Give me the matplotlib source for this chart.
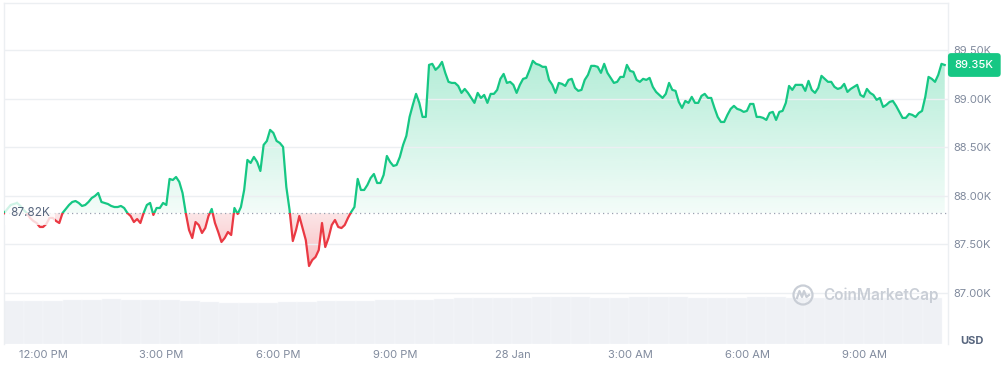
import matplotlib
matplotlib.use("Agg")
import matplotlib.pyplot as plt
import matplotlib.dates as mdates
import matplotlib.transforms as mtransforms
from matplotlib.patches import Rectangle, PathPatch, Circle
from matplotlib.lines import Line2D
from matplotlib.path import Path
import numpy as np
import pandas as pd

plt.rcParams["font.family"] = ["Inter", "DejaVu Sans"]

# ---------------------------------------------------------------------------
# Data
# ---------------------------------------------------------------------------
START = "2026-01-27 10:59"
END = "2026-01-28 11:03"
REF_PRICE = 87820          # price at the start of the window (dotted line)
LAST_PRICE = 89350

PRICE = [
    87820, 87864, 87905, 87915, 87926, 87895, 87853, 87822, 87771, 87740,
    87719, 87678, 87678, 87709, 87771, 87771, 87740, 87719, 87822, 87864,
    87905, 87936, 87946, 87926, 87895, 87905, 87936, 87977, 87998, 88029,
    87936, 87926, 87915, 87895, 87884, 87884, 87895, 87874, 87822, 87791,
    87729, 87760, 87719, 87822, 87905, 87926, 87802, 87874, 87874, 87926,
    87905, 88174, 88163, 88194, 88143, 88029, 87822, 87647, 87564, 87729,
    87698, 87616, 87667, 87791, 87864, 87719, 87626, 87523, 87564, 87626,
    87595, 87874, 87812, 87884, 88060, 88370, 88339, 88401, 88349, 88256,
    88525, 88566, 88680, 88649, 88566, 88545, 88504, 88091, 87853, 87533,
    87647, 87791, 87667, 87543, 87275, 87337, 87368, 87440, 87719, 87471,
    87564, 87698, 87750, 87678, 87667, 87698, 87771, 87833, 87884, 88174,
    88060, 88060, 88112, 88184, 88225, 88132, 88132, 88215, 88411, 88349,
    88308, 88318, 88401, 88525, 88618, 88814, 88938, 89052, 88959, 88814,
    88814, 89351, 89362, 89300, 89331, 89382, 89269, 89176, 89165, 89165,
    89134, 89062, 89103, 89062, 89010, 88959, 89062, 89010, 89041, 88959,
    89052, 89052, 89093, 89207, 89258, 89165, 89176, 89145, 89062, 89145,
    89207, 89217, 89300, 89393, 89362, 89351, 89331, 89331, 89196, 89145,
    89062, 89165, 89155, 89134, 89196, 89207, 89114, 89083, 89093, 89196,
    89248, 89341, 89341, 89331, 89269, 89362, 89269, 89217, 89165, 89176,
    89227, 89227, 89351, 89289, 89279, 89196, 89176, 89207, 89196, 89217,
    89124, 89072, 89041, 89010, 89052, 89165, 89093, 89083, 88969, 88907,
    88979, 88959, 89021, 88959, 88959, 89031, 89052, 89010, 89010, 88907,
    88814, 88762, 88762, 88835, 88897, 88928, 88897, 88886, 88866, 88876,
    88948, 88948, 88814, 88814, 88804, 88783, 88855, 88866, 88783, 88866,
    88876, 88959, 89134, 89093, 89145, 89145, 89145, 89083, 89186, 89093,
    89062, 89114, 89238, 89207, 89176, 89176, 89124, 89103, 89114, 89155,
    89072, 89103, 89124, 89145, 89041, 89021, 89103, 89062, 89041, 88990,
    89010, 88917, 88938, 88969, 88979, 88928, 88866, 88804, 88804, 88845,
    88835, 88814, 88855, 88876, 89021, 89227, 89207, 89176, 89248, 89362,
    89350,
]

# 24h volume, one bar per half hour (USD bn)
VOLUME_BN = [
    38.7, 38.7, 39.2, 39.6, 39.6, 40.5, 40.0, 39.6, 39.6, 38.7,
    37.8, 37.4, 36.9, 37.4, 37.8, 38.3, 38.7, 38.7, 39.2, 39.6,
    39.6, 40.1, 40.5, 41.4, 41.9, 42.0, 42.1, 42.2, 42.3, 42.2,
    42.1, 42.1, 42.2, 42.3, 42.2, 42.1, 42.0, 42.1, 42.2, 42.2,
    42.1, 42.0, 42.1, 42.2, 42.1, 42.0, 41.4, 41.4,
]

Y_TICKS = [87000, 87500, 88000, 88500, 89000, 89500]
Y_LIM = (86470, 89990)

GREEN = "#16c784"
RED = "#ea3943"
GRID = "#eceff2"
TEXT = "#808a9d"
DARK_TEXT = "#58667e"
VOL_COLOR = "#eff1f5"

W, H = 1006, 369


def fmt_time(x, pos=None):
    d = mdates.num2date(x)
    if d.hour == 0 and d.minute == 0:
        return f"{d.day} {d:%b}"
    return d.strftime("%I:%M %p").lstrip("0")


def gradient_image(color, a_bottom, a_top, n=256):
    rgb = matplotlib.colors.to_rgb(color)
    img = np.zeros((n, 1, 4))
    img[..., 0], img[..., 1], img[..., 2] = rgb
    img[:, 0, 3] = np.linspace(a_bottom, a_top, n)
    return img


# ---------------------------------------------------------------------------
# Figure
# ---------------------------------------------------------------------------
fig = plt.figure(figsize=(W / 100, H / 100), dpi=100)
pos = [3.5 / W, (H - 344) / H, (948 - 3.5) / W, (344 - 3) / H]

ax_vol = fig.add_axes(pos)
ax = fig.add_axes(pos, sharex=ax_vol)
ax.patch.set_alpha(0)

times = pd.date_range(START, END, periods=len(PRICE))
t = mdates.date2num(times)
price = np.array(PRICE, dtype=float)

# volume bars
vol_times = mdates.date2num(pd.date_range(START, periods=len(VOLUME_BN), freq="30min"))
bar_w = (30 / 1440)
ax_vol.bar(vol_times, VOLUME_BN, width=bar_w, align="edge",
           color=VOL_COLOR, edgecolor="#f8f9fb", linewidth=0.3)
ax_vol.set_ylim(0, max(VOLUME_BN) * 7.3)
ax_vol.axis("off")

xlim = (t[0] - 1 / 1440, t[-1] + 5 / 1440)

# gradient fills, clipped to area between price and reference
above = ax.fill_between(t, price, REF_PRICE, where=price >= REF_PRICE,
                        interpolate=True, facecolor="none", edgecolor="none")
below = ax.fill_between(t, price, REF_PRICE, where=price <= REF_PRICE,
                        interpolate=True, facecolor="none", edgecolor="none")

for coll, color, ext, a0, a1 in [
    (above, GREEN, (REF_PRICE, 89450), 0.05, 0.33),
    (below, RED, (87250, REF_PRICE), 0.34, 0.12),
]:
    paths = coll.get_paths()
    if not paths:
        continue
    clip = PathPatch(Path.make_compound_path(*paths), transform=ax.transData,
                     facecolor="none", edgecolor="none")
    ax.add_patch(clip)
    im = ax.imshow(gradient_image(color, a0, a1), origin="lower", aspect="auto",
                   extent=[xlim[0], xlim[1], ext[0], ext[1]], zorder=1)
    im.set_clip_path(clip)

# price line, green above the reference, red below
trans = mtransforms.blended_transform_factory(ax.transAxes, ax.transData)
for color, rect in [
    (GREEN, Rectangle((0, REF_PRICE), 1, 1e6, transform=trans)),
    (RED, Rectangle((0, REF_PRICE - 1e6), 1, 1e6, transform=trans)),
]:
    line, = ax.plot(t, price, color=color, lw=1.6, solid_joinstyle="round", zorder=3)
    line.set_clip_path(rect)

ax.axhline(REF_PRICE, color="#9aa1b1", lw=0.9, ls=(0, (1, 2.6)), zorder=2)

ax.text(0.0068, REF_PRICE, f"{REF_PRICE / 1000:.2f}K", transform=trans,
        ha="left", va="center", fontsize=8.5, color=DARK_TEXT, zorder=5,
        bbox=dict(boxstyle="square,pad=0.45", fc="white", ec="none", alpha=0.8))

ax.text(1.0072, LAST_PRICE, f"{LAST_PRICE / 1000:.2f}K", transform=trans,
        ha="left", va="center", fontsize=8, color="white", fontweight="medium",
        zorder=10, clip_on=False,
        bbox=dict(boxstyle="round,pad=0.62,rounding_size=0.3", fc=GREEN, ec="none"))

# axes styling
ax.set_xlim(*xlim)
ax.set_ylim(*Y_LIM)
ax.set_yticks(Y_TICKS)
ax.yaxis.tick_right()
ax.yaxis.set_major_formatter(lambda v, p: f"{v / 1000:.2f}K")
ax.xaxis.set_major_locator(mdates.HourLocator(byhour=[0, 3, 6, 9, 12, 15, 18, 21]))
ax.xaxis.set_major_formatter(fmt_time)
ax.tick_params(axis="y", length=0, pad=3.6, labelsize=8, labelcolor=TEXT)
ax.tick_params(axis="x", length=0, pad=4.6, labelsize=8, labelcolor=TEXT)
ax.grid(axis="y", color=GRID, lw=1, zorder=0)
ax.grid(axis="x", visible=False)
for sp in ("top", "left", "right"):
    ax.spines[sp].set_color(GRID)
    ax.spines[sp].set_linewidth(1)
ax.spines["bottom"].set_visible(False)

fig.text(972 / W, (H - 341) / H, "USD", ha="center", va="center",
         fontsize=8, fontweight="bold", color=DARK_TEXT)

# watermark
fig.text(823 / W, (H - 295) / H, "CoinMarketCap", ha="left", va="center",
         fontsize=11, fontweight="semibold", color="#c9ced6")
ident = mtransforms.IdentityTransform()
fig.add_artist(Circle((803, H - 295), 9.5, transform=ident, fill=False,
                      ec="#c9ced6", lw=1.6))
fig.add_artist(Line2D([797, 799.5, 802, 804, 806.5, 809],
                      [H - 298, H - 291, H - 297, H - 291, H - 297, H - 295],
                      transform=ident, color="#c9ced6", lw=1.6))

fig.savefig("out.png", dpi=100)
